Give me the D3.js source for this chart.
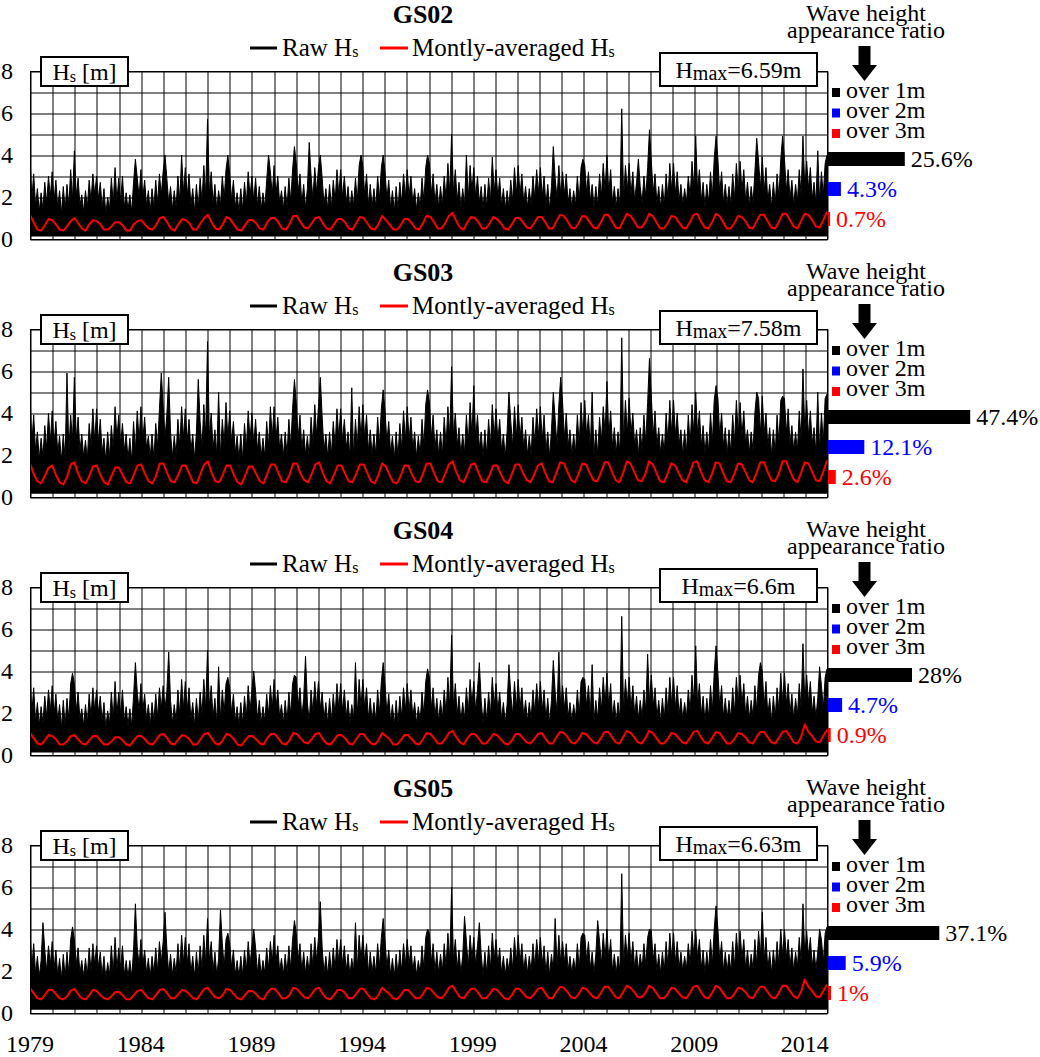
<!DOCTYPE html>
<html><head><meta charset="utf-8">
<script src="https://cdn.jsdelivr.net/npm/d3@7/dist/d3.min.js"></script>
<style>
body{margin:0;background:#fff}
svg{display:block}
text{font-family:"Liberation Serif","Times New Roman",serif;fill:#000}
</style>
</head><body>
<svg id="chart" width="1040" height="1057" font-family="Liberation Serif, Times New Roman, serif"></svg>
<script>
// ---------------- DATA ----------------
const stations = ["GS02", "GS03", "GS04", "GS05"];
const hmaxLabels = ["6.59m", "7.58m", "6.6m", "6.63m"];
const over1m = [25.6, 47.4, 28, 37.1];
const over2m = [4.3, 12.1, 4.7, 5.9];
const over3m = [0.7, 2.6, 0.9, 1];
const yTickLabels = [0, 2, 4, 6, 8];
const xTickYears = [1979, 1984, 1989, 1994, 1999, 2004, 2009, 2014];
const startYear = 1979, endYear = 2015;
const minHs = [0.12, 0.15, 0.12, 0.15];

// raw Hs, 12 samples per year (1979-2014), read as needle tops / troughs
const rawGS02 = [
3.9,1.9,3.1,1.6,2.4,1.3,2.2,1.4,2.7,1.7,3.0,2.0,
3.2,1.8,2.8,1.5,2.3,1.2,2.5,1.4,2.6,1.6,3.3,1.9,
4.2,2.0,2.9,1.6,2.1,1.3,2.3,1.5,2.8,1.8,3.1,2.1,
3.0,1.9,2.7,1.5,2.4,1.2,2.0,1.4,2.9,1.7,3.4,1.8,
2.9,1.8,3.0,1.5,2.2,1.4,2.1,1.3,2.7,3.8,2.9,2.0,
3.3,2.0,2.8,1.6,2.3,1.3,2.4,1.5,2.8,1.7,3.1,2.1,
3.2,4.0,2.9,1.7,2.5,1.4,2.3,1.5,3.0,1.8,4.0,2.2,
3.4,2.0,3.1,1.6,2.4,1.3,2.6,1.5,2.9,1.8,3.5,2.1,
5.7,2.2,3.2,1.7,2.6,1.4,2.3,1.6,3.0,1.9,3.3,4.0,
3.1,1.9,2.8,1.5,2.2,1.3,2.4,1.4,2.7,1.7,3.2,2.0,
3.0,1.8,2.9,1.6,2.5,1.4,2.2,1.5,2.8,4.0,3.2,2.1,
3.5,2.1,3.0,1.7,2.3,1.4,2.5,1.5,2.9,1.8,3.3,4.4,
3.6,2.2,3.1,1.7,2.6,1.5,2.4,4.6,3.0,1.9,3.4,2.2,
3.4,4.0,2.9,1.6,2.4,1.4,2.6,1.5,2.8,1.8,3.3,2.1,
3.3,2.0,3.0,1.7,2.5,1.4,2.3,1.6,2.9,1.8,3.5,4.0,
3.5,2.1,3.1,1.6,2.6,1.5,2.4,1.5,3.0,1.9,3.4,4.0,
3.2,1.9,2.8,1.5,2.3,1.3,2.5,1.4,2.7,1.7,3.1,2.0,
3.3,2.0,3.0,1.7,2.4,1.4,2.2,1.5,2.9,1.8,3.4,4.0,
3.6,2.1,3.1,1.7,2.6,1.5,2.5,1.6,3.0,1.9,3.6,2.2,
5.0,2.2,3.3,1.8,2.7,1.5,2.4,1.6,4.0,1.9,3.5,2.3,
3.4,2.0,3.0,1.7,2.5,1.4,2.6,1.5,2.9,1.8,3.9,2.2,
3.3,2.0,2.9,1.6,2.4,1.4,2.3,1.5,2.8,1.8,3.4,2.1,
3.5,2.1,3.1,1.7,2.5,1.5,2.4,1.6,3.0,1.9,3.3,2.2,
3.4,2.0,3.0,1.6,2.6,1.4,2.5,4.4,2.9,1.9,3.5,2.1,
3.2,2.1,3.1,1.7,2.4,1.5,2.3,1.6,3.0,1.8,3.4,3.8,
3.5,2.2,3.2,1.8,2.6,1.5,2.5,1.6,3.1,2.0,3.6,2.3,
4.0,2.2,3.3,1.7,2.5,1.5,2.4,1.6,6.2,1.9,3.5,2.3,
3.6,2.1,3.2,1.8,2.7,3.8,2.5,1.7,3.0,2.0,3.4,5.2,
3.7,2.2,3.1,1.7,2.5,1.5,2.6,1.6,3.1,1.9,3.6,2.3,
3.6,2.1,3.2,1.8,2.6,1.6,2.4,1.7,3.0,2.0,3.7,2.4,
4.9,2.3,3.3,1.8,2.7,1.5,2.6,1.7,3.2,2.0,3.8,4.9,
3.8,2.2,3.2,1.7,2.6,1.6,2.5,1.6,3.1,1.9,3.6,2.3,
3.7,2.3,3.3,1.8,2.7,1.6,2.5,1.7,3.2,4.8,3.7,2.4,
3.9,2.2,3.4,1.8,2.6,1.5,2.7,1.7,3.1,2.0,3.8,4.9,
3.8,2.3,3.3,1.9,2.8,1.6,2.6,1.8,3.3,2.1,4.9,2.4,
3.7,2.4,3.4,1.9,2.7,1.7,4.2,1.8,3.2,2.1,3.6,4.0
];
const rawGS03 = [
4.8,2.6,3.9,2.2,3.1,1.8,2.8,1.9,3.4,2.3,4.0,2.6,
4.1,2.5,3.6,2.1,2.9,1.7,3.0,1.8,5.9,2.2,3.9,2.7,
5.7,2.7,3.8,2.2,3.0,1.9,2.7,1.8,3.5,2.4,4.2,2.6,
4.2,2.6,3.7,2.1,2.8,1.7,3.1,1.9,3.4,2.3,4.3,2.8,
3.9,2.5,3.5,2.2,3.0,1.8,2.8,1.7,3.6,2.2,4.1,2.7,
4.3,2.7,3.8,2.3,2.9,1.9,3.0,1.8,3.5,2.4,4.2,5.9,
4.4,2.8,3.9,5.7,3.1,1.9,2.9,2.0,3.7,2.4,4.3,2.8,
4.2,2.6,3.7,2.2,3.0,1.8,3.1,5.6,3.6,2.3,4.4,2.9,
7.4,2.9,4.0,2.3,3.2,2.0,5.0,1.9,3.7,2.5,4.5,2.8,
4.1,2.6,3.6,2.1,2.9,1.8,3.0,1.8,3.5,2.3,4.1,2.7,
4.0,2.5,3.7,2.2,3.1,1.9,2.8,1.9,3.6,2.4,4.3,2.8,
4.3,2.7,3.8,2.3,3.0,1.9,3.1,2.0,3.7,2.4,4.2,5.6,
4.5,2.8,3.9,2.3,3.2,2.0,2.9,1.9,3.8,2.5,4.4,2.9,
4.3,5.7,3.8,2.2,3.0,1.9,3.1,2.0,3.6,2.4,4.2,2.8,
4.2,2.7,3.7,2.3,3.1,1.9,5.2,1.9,3.7,2.4,4.3,2.8,
4.4,2.8,3.9,2.2,3.2,2.0,3.0,2.0,3.8,2.5,4.2,5.1,
4.1,2.6,3.6,2.1,2.9,1.8,3.1,1.9,3.5,2.3,4.1,2.7,
4.3,2.7,3.8,2.3,3.1,1.9,2.9,2.0,3.7,2.4,4.4,5.1,
4.5,2.8,3.9,2.3,3.2,2.0,3.1,2.0,3.8,2.5,4.3,2.9,
6.2,2.9,4.0,2.4,3.3,2.0,3.0,2.1,3.9,2.5,4.5,2.9,
5.3,2.8,3.9,2.3,3.1,1.9,3.2,2.0,3.7,2.4,4.4,2.8,
4.2,2.7,3.7,2.2,3.0,1.9,3.1,5.0,3.6,2.4,4.3,2.8,
4.4,2.8,3.8,2.3,3.2,2.0,2.9,2.0,3.8,2.5,4.2,2.9,
4.3,2.7,3.9,2.2,3.1,1.9,3.2,5.0,3.7,2.4,4.4,5.7,
4.5,2.8,4.0,2.4,3.2,2.0,3.0,2.1,3.9,2.5,4.5,2.9,
4.6,2.9,3.9,2.3,5.0,2.0,3.2,2.0,3.8,2.6,4.3,3.0,
5.5,2.9,4.1,2.4,3.3,2.1,3.1,2.1,7.58,2.6,4.6,3.0,
4.7,3.0,4.0,2.4,3.2,2.0,3.3,2.2,3.9,2.6,4.5,6.6,
4.8,2.9,4.1,2.4,3.3,2.1,3.0,2.1,4.0,2.6,4.6,3.0,
4.6,2.9,4.0,2.5,3.2,2.0,3.2,2.1,3.9,2.5,4.4,3.0,
5.0,3.0,4.1,2.4,3.4,2.1,3.1,2.2,4.0,2.6,4.6,5.3,
4.7,2.9,4.0,2.4,3.3,2.0,3.2,2.1,3.9,2.6,4.6,3.0,
4.5,2.9,4.1,2.5,3.2,2.1,3.1,2.2,4.0,5.0,4.7,3.0,
4.8,3.0,4.0,2.4,3.3,2.0,3.2,2.1,3.9,2.6,4.6,4.8,
4.7,3.0,4.2,2.5,3.4,2.2,3.1,2.2,4.1,2.7,6.1,3.1,
4.6,2.9,4.1,2.5,3.3,2.1,5.0,2.2,4.0,2.6,4.7,4.9
];
const rawGS04 = [
3.9,2.0,3.2,1.6,2.5,1.4,2.3,1.5,2.8,1.8,3.1,2.1,
3.3,1.9,2.9,1.6,2.4,1.3,2.6,1.4,2.7,1.7,3.4,3.9,
3.4,2.1,3.0,1.7,2.2,1.4,2.4,1.5,2.9,1.8,3.2,2.1,
3.1,2.0,2.8,1.6,2.5,1.3,2.1,1.5,3.0,1.7,3.5,1.9,
3.0,1.9,3.1,1.6,2.3,1.4,2.2,1.4,2.8,4.4,3.0,2.1,
3.4,2.1,2.9,1.7,2.4,1.4,2.5,1.6,2.9,1.8,3.2,2.2,
3.3,2.2,3.0,4.9,2.6,1.5,2.4,1.6,3.1,1.9,3.6,2.2,
3.5,2.1,3.2,1.7,2.5,1.4,2.7,1.6,3.0,1.9,3.6,2.2,
5.0,2.3,3.3,1.8,2.7,1.5,4.2,1.7,3.1,2.0,3.4,3.7,
3.2,2.0,2.9,1.6,2.3,1.4,2.5,1.5,2.8,1.8,3.3,2.1,
3.1,4.0,3.0,1.7,2.6,1.5,2.3,1.6,2.9,1.9,3.3,2.2,
3.6,2.2,3.1,1.8,2.4,1.5,2.6,1.6,3.0,1.9,3.4,3.8,
3.7,2.3,3.2,1.8,2.7,4.7,2.5,1.6,3.1,2.0,3.5,2.3,
3.5,2.2,3.0,1.7,2.5,1.5,2.7,1.6,2.9,1.9,3.4,2.2,
3.4,2.1,3.1,1.8,2.6,1.5,2.4,1.7,4.4,1.9,3.6,2.3,
3.6,2.2,3.2,1.7,2.7,1.6,2.5,1.6,3.1,2.0,3.5,4.4,
3.3,2.0,2.9,1.6,2.4,1.4,2.6,1.5,2.8,1.8,3.2,2.1,
3.4,2.1,3.1,1.8,2.5,1.5,2.3,1.6,3.0,1.9,3.5,4.1,
3.7,2.2,3.2,1.8,2.7,1.6,2.6,1.7,3.1,2.0,3.7,2.3,
5.7,2.3,3.4,1.9,2.8,1.6,2.5,1.7,3.2,2.0,3.6,2.4,
3.5,2.1,3.1,4.4,2.6,1.5,2.7,1.6,3.0,1.9,3.7,2.3,
3.4,2.1,3.0,1.7,2.5,1.5,2.4,4.3,2.9,1.9,3.5,2.2,
3.6,2.2,3.2,1.8,2.6,1.6,2.5,1.7,3.1,2.0,3.4,2.3,
3.5,2.1,3.1,1.7,2.7,1.5,2.6,4.5,3.0,2.0,4.9,2.2,
3.3,2.2,3.2,1.8,2.5,1.6,2.4,1.7,3.1,1.9,3.5,3.7,
3.6,2.3,3.3,1.9,4.3,1.6,2.6,1.7,3.2,2.1,3.7,2.4,
3.9,2.3,3.4,1.8,2.6,1.6,2.5,1.7,6.6,2.0,3.6,2.4,
3.7,2.2,3.3,1.9,2.8,1.7,2.6,1.8,3.1,2.1,4.8,2.5,
3.8,2.3,3.2,1.8,2.6,1.6,2.7,1.7,3.2,2.0,3.7,2.4,
3.7,2.2,3.3,1.9,2.7,1.7,2.5,1.8,3.1,2.1,3.8,2.5,
5.2,2.4,3.4,1.9,2.8,1.6,2.7,1.8,3.3,2.1,3.9,5.2,
3.9,2.3,3.3,1.8,2.7,1.7,2.6,1.7,3.2,2.0,3.7,2.4,
3.8,2.4,3.4,1.9,2.8,1.7,2.6,1.8,3.3,2.1,3.8,4.4,
4.0,2.3,3.5,1.9,2.7,1.6,2.8,1.8,3.2,2.1,3.9,2.5,
3.9,2.4,3.4,2.0,2.9,1.7,2.7,1.9,3.4,2.2,5.3,2.5,
3.8,2.5,3.5,2.0,2.8,1.8,2.7,4.2,3.3,2.2,3.7,4.1
];
const rawGS05 = [
3.9,2.2,3.3,1.9,2.7,1.7,2.5,4.3,3.0,2.0,3.2,2.3,
3.4,2.1,3.0,1.8,2.6,1.6,2.8,1.7,2.9,1.9,3.5,4.1,
3.5,2.3,3.1,1.9,2.5,1.7,2.6,1.8,3.1,2.0,3.3,2.3,
3.2,2.2,2.9,1.8,2.7,1.6,2.4,1.8,3.2,1.9,3.6,2.1,
3.1,2.1,3.2,1.8,2.5,1.7,2.5,1.7,3.0,5.2,3.1,2.3,
3.5,2.3,3.0,1.9,2.6,1.7,2.7,1.9,3.1,2.0,3.4,2.4,
3.4,4.8,3.1,1.9,2.8,1.8,2.6,1.9,3.3,2.1,3.7,2.4,
3.6,2.3,3.3,1.9,2.7,1.7,2.9,1.9,3.2,2.1,3.7,2.4,
4.5,2.5,3.4,2.0,2.9,1.8,2.6,4.9,3.3,2.2,3.5,3.8,
3.3,2.2,3.0,1.8,2.5,1.7,2.7,1.8,3.0,2.0,3.4,2.3,
3.2,4.0,3.1,1.9,2.8,1.8,2.5,1.9,3.1,2.1,3.4,2.4,
3.7,2.4,3.2,2.0,2.6,1.8,2.8,1.9,3.2,2.1,3.5,4.4,
3.8,2.5,3.3,2.0,2.9,1.9,2.7,1.9,3.3,2.2,3.6,2.5,
3.6,5.3,3.1,1.9,2.7,1.8,2.9,1.9,3.1,2.1,3.5,2.4,
3.5,2.3,3.2,2.0,2.8,1.8,2.6,2.0,4.3,2.1,3.7,2.5,
3.7,2.4,3.3,1.9,2.9,1.9,2.7,1.9,3.3,2.2,3.6,4.5,
3.4,2.2,3.0,1.8,2.6,1.7,2.8,1.8,3.0,2.0,3.3,2.3,
3.5,2.3,3.2,2.0,2.7,1.8,2.5,1.9,3.2,2.1,3.6,4.0,
3.8,2.4,3.3,2.0,2.9,1.9,2.8,2.0,3.3,2.2,3.8,2.5,
6.0,2.5,3.5,2.1,3.0,1.9,2.7,4.6,3.4,2.2,3.7,2.6,
3.6,2.3,3.2,4.3,2.8,1.8,2.9,1.9,3.2,2.1,3.8,2.5,
3.5,2.3,3.1,1.9,2.7,1.8,2.6,2.0,3.1,2.1,3.6,2.4,
3.7,2.4,3.3,2.0,2.8,1.9,2.7,2.0,3.3,2.2,3.5,2.5,
3.6,2.3,3.2,1.9,2.9,1.8,2.8,2.0,4.5,2.2,3.7,2.4,
3.4,2.4,3.3,2.0,2.7,1.9,2.6,2.0,3.3,2.1,3.6,3.8,
3.7,2.5,3.4,2.1,2.9,1.9,2.8,4.4,3.4,2.3,3.8,2.6,
4.0,2.5,3.5,2.0,2.8,1.9,2.7,2.0,6.63,2.2,3.7,2.6,
3.8,2.4,3.4,2.1,3.0,2.0,2.8,2.1,3.3,2.3,3.6,4.0,
3.9,2.5,3.3,2.0,2.8,1.9,2.9,2.0,3.4,2.2,3.8,2.6,
3.8,2.4,3.4,2.1,2.9,2.0,2.7,2.1,3.3,2.3,3.9,2.7,
4.0,2.6,3.5,2.1,3.0,1.9,2.9,2.1,3.5,2.3,4.0,5.1,
4.0,2.5,3.4,2.0,2.9,2.0,2.8,2.0,3.4,2.2,3.8,2.6,
3.9,2.6,3.5,2.1,3.0,2.0,2.8,2.1,3.5,2.3,3.9,2.7,
4.8,2.5,3.6,2.1,2.9,1.9,3.0,2.1,3.4,2.3,4.0,2.7,
4.0,2.6,3.5,2.2,3.1,2.0,2.9,2.2,3.6,2.4,5.2,2.7,
3.9,2.7,3.6,2.2,3.0,2.1,2.9,4.0,3.5,2.4,3.8,4.1
];

// monthly-averaged Hs, 6 samples per year (1979-2014)
const avgGS02 = [
1.15,0.8,0.45,0.4,0.65,0.95, 0.9,0.7,0.45,0.4,0.6,0.85, 1.0,0.75,0.5,0.4,0.7,0.9, 0.85,0.7,0.45,0.45,0.6,0.8,
0.8,0.65,0.4,0.4,0.7,0.85, 0.9,0.7,0.5,0.45,0.65,1.0, 1.05,0.8,0.5,0.4,0.7,0.95, 0.9,0.75,0.45,0.45,0.75,1.0,
1.15,0.8,0.5,0.45,0.7,1.05, 0.95,0.7,0.45,0.4,0.65,0.9, 0.9,0.75,0.5,0.45,0.8,1.0, 1.0,0.8,0.5,0.45,0.7,1.1,
1.1,0.8,0.55,0.5,0.75,1.0, 1.05,0.75,0.5,0.45,0.7,0.95, 0.95,0.8,0.5,0.45,0.75,1.05, 1.0,0.75,0.5,0.45,0.7,1.1,
0.9,0.7,0.45,0.45,0.65,0.95, 0.95,0.75,0.5,0.45,0.75,1.1, 1.05,0.8,0.5,0.5,0.75,1.1, 1.25,0.85,0.55,0.45,0.8,1.05,
1.0,0.8,0.5,0.5,0.75,1.05, 0.95,0.75,0.5,0.45,0.7,1.0, 1.0,0.8,0.55,0.5,0.75,1.05, 1.05,0.8,0.5,0.5,0.85,1.15,
1.1,0.85,0.55,0.5,0.75,1.1, 1.05,0.8,0.55,0.5,0.8,1.15, 1.15,0.85,0.55,0.5,0.85,1.2, 1.1,0.85,0.55,0.55,0.8,1.2,
1.1,0.8,0.5,0.5,0.75,1.1, 1.05,0.8,0.55,0.5,0.8,1.15, 1.2,0.85,0.55,0.5,0.8,1.2, 1.1,0.8,0.5,0.5,0.75,1.1,
1.05,0.85,0.55,0.5,0.85,1.15, 1.15,0.85,0.55,0.5,0.8,1.2, 1.2,0.9,0.6,0.5,0.85,1.2, 1.15,0.9,0.6,0.55,0.9,1.3
];
const avgGS03 = [
1.6,1.1,0.75,0.65,1.0,1.4, 1.5,1.05,0.7,0.6,0.95,1.55, 1.65,1.1,0.75,0.65,1.0,1.45, 1.5,1.05,0.7,0.6,1.0,1.4,
1.4,1.05,0.7,0.65,1.05,1.5, 1.55,1.1,0.75,0.65,1.0,1.6, 1.6,1.15,0.75,0.7,1.05,1.5, 1.5,1.1,0.7,0.65,1.1,1.55,
1.7,1.15,0.75,0.7,1.05,1.5, 1.5,1.05,0.7,0.6,1.0,1.45, 1.45,1.1,0.75,0.65,1.1,1.55, 1.55,1.15,0.75,0.7,1.05,1.6,
1.6,1.1,0.8,0.7,1.1,1.55, 1.65,1.15,0.75,0.65,1.05,1.5, 1.5,1.1,0.75,0.7,1.1,1.55, 1.55,1.15,0.75,0.65,1.05,1.6,
1.45,1.05,0.7,0.65,1.0,1.5, 1.5,1.1,0.75,0.7,1.1,1.6, 1.6,1.15,0.75,0.7,1.1,1.55, 1.7,1.2,0.8,0.7,1.1,1.55,
1.6,1.15,0.75,0.7,1.05,1.5, 1.5,1.1,0.75,0.65,1.1,1.55, 1.55,1.15,0.8,0.7,1.05,1.5, 1.6,1.15,0.75,0.7,1.15,1.65,
1.6,1.2,0.8,0.7,1.1,1.6, 1.55,1.15,0.8,0.75,1.15,1.65, 1.65,1.2,0.8,0.7,1.15,1.7, 1.6,1.2,0.8,0.75,1.1,1.7,
1.55,1.15,0.75,0.7,1.1,1.6, 1.5,1.15,0.8,0.7,1.15,1.65, 1.7,1.2,0.8,0.7,1.1,1.65, 1.6,1.15,0.75,0.7,1.1,1.6,
1.55,1.2,0.8,0.7,1.15,1.65, 1.65,1.2,0.8,0.75,1.1,1.7, 1.7,1.25,0.85,0.7,1.15,1.65, 1.6,1.2,0.8,0.75,1.2,1.75
];
const avgGS04 = [
1.05,0.8,0.55,0.5,0.7,0.95, 0.9,0.75,0.5,0.5,0.65,0.9, 0.95,0.75,0.55,0.5,0.7,0.9, 0.9,0.7,0.5,0.5,0.65,0.85,
0.85,0.7,0.5,0.45,0.7,0.9, 0.9,0.75,0.55,0.5,0.7,0.95, 1.0,0.8,0.55,0.5,0.75,0.95, 0.9,0.75,0.5,0.5,0.75,1.0,
1.05,0.8,0.55,0.5,0.7,1.0, 0.95,0.75,0.5,0.45,0.7,0.9, 0.9,0.75,0.55,0.5,0.8,1.0, 1.0,0.8,0.55,0.5,0.7,1.05,
1.0,0.8,0.6,0.55,0.75,1.0, 1.05,0.75,0.55,0.5,0.7,0.95, 0.95,0.8,0.55,0.5,0.75,1.0, 1.0,0.75,0.55,0.5,0.7,1.05,
0.9,0.75,0.5,0.5,0.7,0.95, 0.95,0.75,0.55,0.5,0.75,1.05, 1.0,0.8,0.55,0.55,0.75,1.05, 1.15,0.85,0.6,0.5,0.8,1.0,
1.0,0.8,0.55,0.55,0.75,1.0, 0.95,0.75,0.55,0.5,0.7,1.0, 1.0,0.8,0.6,0.55,0.75,1.0, 1.05,0.8,0.55,0.55,0.85,1.1,
1.05,0.85,0.6,0.55,0.75,1.05, 1.0,0.8,0.6,0.55,0.8,1.1, 1.1,0.85,0.6,0.55,0.85,1.15, 1.05,0.85,0.6,0.55,0.8,1.15,
1.05,0.8,0.55,0.55,0.75,1.05, 1.0,0.8,0.6,0.55,0.8,1.1, 1.15,0.85,0.6,0.55,0.8,1.1, 1.05,0.8,0.55,0.55,0.75,1.05,
1.0,0.85,0.6,0.55,0.85,1.1, 1.1,0.85,0.6,0.55,0.8,1.1, 1.15,0.9,0.6,0.55,0.85,1.45, 1.1,0.9,0.65,0.6,0.9,1.2
];
const avgGS05 = [
1.2,0.95,0.7,0.65,0.85,1.1, 1.1,0.9,0.7,0.65,0.8,1.05, 1.15,0.9,0.7,0.65,0.85,1.1, 1.05,0.85,0.7,0.65,0.8,1.0,
1.0,0.85,0.65,0.65,0.85,1.05, 1.1,0.9,0.7,0.65,0.85,1.1, 1.15,0.95,0.7,0.7,0.9,1.1, 1.05,0.9,0.7,0.65,0.9,1.15,
1.2,0.95,0.75,0.7,0.85,1.15, 1.1,0.9,0.7,0.65,0.85,1.05, 1.05,0.9,0.7,0.65,0.95,1.15, 1.15,0.95,0.7,0.7,0.85,1.2,
1.15,0.95,0.75,0.7,0.9,1.15, 1.2,0.9,0.7,0.65,0.85,1.1, 1.1,0.95,0.7,0.7,0.9,1.15, 1.15,0.9,0.7,0.65,0.85,1.2,
1.05,0.9,0.7,0.65,0.85,1.1, 1.1,0.9,0.7,0.7,0.9,1.2, 1.15,0.95,0.75,0.7,0.9,1.2, 1.3,1.0,0.75,0.7,0.95,1.15,
1.15,0.95,0.7,0.7,0.9,1.15, 1.1,0.9,0.7,0.65,0.85,1.15, 1.15,0.95,0.75,0.7,0.9,1.15, 1.2,0.95,0.7,0.7,1.0,1.25,
1.2,1.0,0.75,0.7,0.9,1.2, 1.15,0.95,0.75,0.7,0.95,1.25, 1.25,1.0,0.75,0.7,1.0,1.3, 1.2,1.0,0.75,0.75,0.95,1.3,
1.2,0.95,0.7,0.7,0.9,1.2, 1.15,0.95,0.75,0.7,0.95,1.25, 1.3,1.0,0.75,0.7,0.95,1.3, 1.2,0.95,0.7,0.7,0.9,1.2,
1.15,1.0,0.75,0.7,1.0,1.25, 1.25,1.0,0.75,0.7,0.95,1.3, 1.3,1.05,0.8,0.7,1.0,1.6, 1.25,1.05,0.8,0.75,1.05,1.35
];
const rawSeries = [rawGS02, rawGS03, rawGS04, rawGS05];
const avgSeries = [avgGS02, avgGS03, avgGS04, avgGS05];

// ---------------- LAYOUT ----------------
const panelTops = [71, 329, 587, 845];
const plotL = 30, plotR = 827, plotH = 168;
const serif = "Liberation Serif, Times New Roman, serif";
const svg = d3.select("#chart");

const x = d3.scaleLinear().domain([startYear, endYear]).range([plotL, plotR]);
const xr = d3.scaleLinear().domain([startYear, endYear]).rangeRound([plotL, plotR]);
const y = d3.scaleLinear().domain([0, 8]).range([plotH, 0]);
const xb = d3.scaleLinear().domain([0, 100]).range([plotR + 1, plotR + 301]);

function timeOf(i, n) { return startYear + i / (n - 1) * (endYear - startYear); }

svg.append("defs").append("clipPath").attr("id", "plotclip")
  .append("rect").attr("x", plotL).attr("y", 0).attr("width", plotR - plotL).attr("height", plotH);

stations.forEach((name, p) => {
  const top = panelTops[p];
  const g = svg.append("g").attr("transform", `translate(0,${top})`).attr("font-family", serif);

  // grid
  const gridG = g.append("g").attr("transform", "translate(0.5,0.5)");
  gridG.append("g")
    .call(d3.axisLeft(y).tickValues(d3.range(0, 9)).tickSize(-(plotR - plotL)).tickFormat(""))
    .attr("transform", `translate(${plotL},0)`)
    .call(a => a.select(".domain").remove())
    .call(a => a.selectAll("line").attr("stroke", "#000").attr("stroke-width", 1));
  gridG.append("g")
    .call(d3.axisBottom(xr).tickValues(d3.range(startYear, endYear + 1)).tickSize(-plotH).tickFormat(""))
    .attr("transform", `translate(0,${plotH})`)
    .call(a => a.select(".domain").remove())
    .call(a => a.selectAll("line").attr("stroke", "#000").attr("stroke-width", 1));

  // data
  const dg = g.append("g").attr("clip-path", "url(#plotclip)");
  const raw = rawSeries[p];
  const area = d3.area()
    .x((d, i) => x(timeOf(i, raw.length)))
    .y0(y(minHs[p]))
    .y1(d => y(d));
  dg.append("path").datum(raw).attr("d", area).attr("fill", "#000");
  dg.append("path").datum(raw)
    .attr("d", d3.line().x((d, i) => x(timeOf(i, raw.length))).y(d => y(d)))
    .attr("fill", "none").attr("stroke", "#000").attr("stroke-width", 1);

  const avg = avgSeries[p];
  dg.append("path").datum(avg)
    .attr("d", d3.line().x((d, i) => x(timeOf(i, avg.length))).y(d => y(d)))
    .attr("fill", "none").attr("stroke", "#ff0000").attr("stroke-width", 2).attr("stroke-linejoin", "round");

  // border
  g.append("rect").attr("x", plotL + 0.5).attr("y", 0.5).attr("width", plotR - plotL).attr("height", plotH)
    .attr("fill", "none").attr("stroke", "#000").attr("stroke-width", 1);

  // y tick labels
  g.selectAll(".ytl").data(yTickLabels).join("text")
    .attr("x", 13).attr("y", d => y(d) + 8)
    .attr("text-anchor", "end").attr("font-size", 24).text(d => d);

  // title
  g.append("text").attr("x", 423).attr("y", -48).attr("text-anchor", "middle")
    .attr("font-size", 26).attr("font-weight", "bold").text(name);

  // legend
  g.append("line").attr("x1", 250).attr("x2", 277).attr("y1", -23).attr("y2", -23)
    .attr("stroke", "#000").attr("stroke-width", 3);
  const t1 = g.append("text").attr("x", 282).attr("y", -15).attr("font-size", 25);
  t1.append("tspan").text("Raw H");
  t1.append("tspan").attr("font-size", 16).attr("dy", 1).text("s");
  g.append("line").attr("x1", 380).attr("x2", 408).attr("y1", -23).attr("y2", -23)
    .attr("stroke", "#ff0000").attr("stroke-width", 3);
  const t2 = g.append("text").attr("x", 412).attr("y", -15).attr("font-size", 25);
  t2.append("tspan").text("Montly-averaged H");
  t2.append("tspan").attr("font-size", 16).attr("dy", 1).text("s");

  // Hs [m] box
  g.append("rect").attr("x", 41).attr("y", -14).attr("width", 87).attr("height", 29)
    .attr("fill", "#fff").attr("stroke", "#000").attr("stroke-width", 2);
  const t3 = g.append("text").attr("x", 84.5).attr("y", 9).attr("text-anchor", "middle").attr("font-size", 24);
  t3.append("tspan").text("H");
  t3.append("tspan").attr("font-size", 16).attr("dy", 2).text("s");
  t3.append("tspan").attr("dy", -2).text(" [m]");

  // Hmax box
  g.append("rect").attr("x", 660).attr("y", -18).attr("width", 157).attr("height", 33)
    .attr("fill", "#fff").attr("stroke", "#000").attr("stroke-width", 2);
  const t4 = g.append("text").attr("x", 738.5).attr("y", 7).attr("text-anchor", "middle").attr("font-size", 24);
  t4.append("tspan").text("H");
  t4.append("tspan").attr("font-size", 20).attr("dy", 2).text("max");
  t4.append("tspan").attr("dy", -2).text("=" + hmaxLabels[p]);

  // right side header
  g.append("text").attr("x", 866).attr("y", -50).attr("text-anchor", "middle").attr("font-size", 24).text("Wave height");
  g.append("text").attr("x", 866).attr("y", -33).attr("text-anchor", "middle").attr("font-size", 24).text("appearance ratio");
  g.append("path")
    .attr("d", "M858.5,-25 L870.5,-25 L870.5,-6 L877,-6 L864.5,10 L852,-6 L858.5,-6 Z")
    .attr("fill", "#000");

  // ratio legend
  const legendItems = [["over 1m", "#000"], ["over 2m", "#0000ff"], ["over 3m", "#ff0000"]];
  legendItems.forEach((it, k) => {
    g.append("rect").attr("x", 832).attr("y", 17 + k * 20.5).attr("width", 8).attr("height", 9).attr("fill", it[1]);
    g.append("text").attr("x", 846).attr("y", 27 + k * 20).attr("font-size", 24).text(it[0]);
  });

  // ratio bars
  const bars = [[over1m[p], "#000"], [over2m[p], "#0000ff"], [over3m[p], "#ff0000"]];
  bars.forEach((b, k) => {
    const cy = 88 + k * 30;
    g.append("rect").attr("x", xb(0)).attr("y", cy - 7).attr("width", xb(b[0]) - xb(0)).attr("height", 14).attr("fill", b[1]);
    g.append("text").attr("x", xb(b[0]) + 6).attr("y", cy + 8).attr("font-size", 24)
      .style("fill", b[1]).text(b[0] + "%");
  });

  // x tick labels on bottom panel
  if (p === stations.length - 1) {
    g.selectAll(".xtl").data(xTickYears).join("text")
      .attr("x", d => x(d)).attr("y", plotH + 39)
      .attr("text-anchor", "middle").attr("font-size", 24).text(d => d);
  }
});
</script>
</body></html>
